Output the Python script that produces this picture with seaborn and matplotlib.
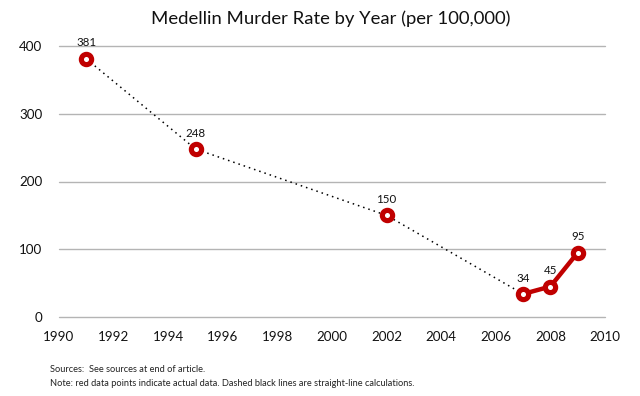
import matplotlib
matplotlib.use("Agg")
import matplotlib.pyplot as plt
import seaborn as sns
import pandas as pd

# Data
years = [1991, 1995, 2002, 2007, 2008, 2009]
rates = [381, 248, 150, 34, 45, 95]
estimated_years = [1991, 1995, 2002, 2007]
estimated_rates = [381, 248, 150, 34]
actual_years = [2007, 2008, 2009]
actual_rates = [34, 45, 95]
x_ticks = [1990, 1992, 1994, 1996, 1998, 2000, 2002, 2004, 2006, 2008, 2010]
y_ticks = [0, 100, 200, 300, 400]

title = "Medellin Murder Rate by Year (per 100,000)"
note1 = "Sources:  See sources at end of article."
note2 = "Note: red data points indicate actual data. Dashed black lines are straight-line calculations."

sns.set_theme(style="white")
plt.rcParams["font.family"] = ["Lato", "DejaVu Sans"]

fig = plt.figure(figsize=(6.4, 3.96), dpi=100)
ax = fig.add_axes([59/640, 1 - 317/396, (605 - 59)/640, (317 - 46)/396])

df_est = pd.DataFrame({"year": estimated_years, "rate": estimated_rates})
df_act = pd.DataFrame({"year": actual_years, "rate": actual_rates})
df_all = pd.DataFrame({"year": years, "rate": rates})

RED = "#c00000"
sns.lineplot(data=df_est, x="year", y="rate", ax=ax, color="black",
             linewidth=1.1, linestyle=(0, (1, 2.6)), zorder=3)
sns.lineplot(data=df_act, x="year", y="rate", ax=ax, color=RED,
             linewidth=3.2, zorder=4)
ax.plot(df_all["year"], df_all["rate"], linestyle="none", marker="o",
        markersize=7.4, markeredgewidth=3.7, markeredgecolor=RED,
        markerfacecolor="white", zorder=5)

for x, y in zip(years, rates):
    ax.annotate(str(y), (x, y), xytext=(0, 7.5), textcoords="offset points",
                ha="center", va="bottom", fontsize=8.3, color="#111111", zorder=6)

ax.set_xlim(1990, 2010)
ax.set_ylim(0, 400)
ax.set_xticks(x_ticks)
ax.set_yticks(y_ticks)
ax.set_xlabel("")
ax.set_ylabel("")
for s in ax.spines.values():
    s.set_visible(False)
ax.grid(False)
for yv in y_ticks:
    ax.axhline(yv, color="#b4b4b4", linewidth=1.0, zorder=1, clip_on=False)
ax.tick_params(axis="both", length=0, labelsize=9.6, colors="#111111")
ax.tick_params(axis="x", pad=10)
ax.tick_params(axis="y", pad=12)

fig.text(331/640, 1 - 19/396, title, ha="center", va="center", fontsize=13.3, color="#111111")
fig.text(50/640, 1 - 369/396, note1, ha="left", va="center", fontsize=6.7, color="#222222")
fig.text(50/640, 1 - 383/396, note2, ha="left", va="center", fontsize=6.7, color="#222222")

fig.savefig("out.png", dpi=100)
